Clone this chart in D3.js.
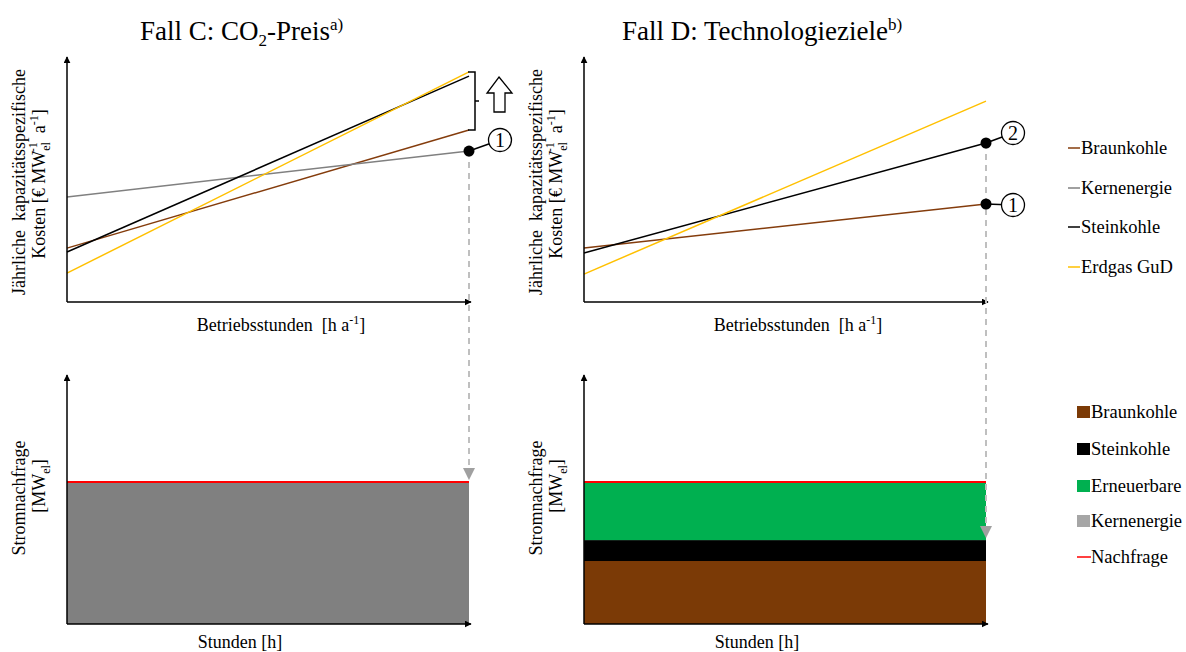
<!DOCTYPE html>
<html><head><meta charset="utf-8">
<script src="https://cdn.jsdelivr.net/npm/d3@7"></script>
<style>body{margin:0;background:#fff}</style>
</head><body><svg id="c" width="1186" height="652" font-family="'Liberation Serif', Tinos, 'Times New Roman', serif"></svg>
<script>
// ---- data ----
const hoursDomain = [0, 8760];
const costTechs = ["Braunkohle", "Kernenergie", "Steinkohle", "Erdgas GuD"];
const costColors = ["#843C0C", "#808080", "#000000", "#FFC000"];
const caseCStart = [22.0, 42.9, 20.4, 11.8];
const caseCEnd   = [70.2, 61.6, 92.2, 93.9];
const caseDStart = [22.0, null, 20.0, 11.4];
const caseDEnd   = [40.0, null, 64.9, 82.0];
const demand = 57;
const stackTechs = ["Braunkohle", "Steinkohle", "Erneuerbare", "Kernenergie"];
const stackColors = ["#7B3A06", "#000000", "#00B050", "#808080"];
const legendStackColors = ["#7B3A06", "#000000", "#00B050", "#A6A6A6"];
const caseCStack = [0, 0, 0, 57];
const caseDStack = [25.3, 8.4, 23.3, 0];

const svg = d3.select("#c");
const defs = svg.append("defs");
defs.append("marker").attr("id","ah").attr("viewBox","0 0 10 10").attr("refX",9).attr("refY",5)
  .attr("markerWidth",7).attr("markerHeight",7).attr("markerUnits","userSpaceOnUse").attr("orient","auto")
  .append("path").attr("d","M0,0L10,5L0,10z").attr("fill","#000");
defs.append("marker").attr("id","gh").attr("viewBox","0 0 10 10").attr("refX",10).attr("refY",5)
  .attr("markerWidth",12).attr("markerHeight",12).attr("markerUnits","userSpaceOnUse").attr("orient","auto")
  .append("path").attr("d","M0,0L10,5L0,10z").attr("fill","#A0A0A0");

const panels = [{x0:67, start:caseCStart, end:caseCEnd, stack:caseCStack},
                {x0:584, start:caseDStart, end:caseDEnd, stack:caseDStack}];
const W = 402;
const FS = 18;

function axes(g, x0, yb, yt){
  g.append("line").attr("x1",x0).attr("y1",yb).attr("x2",x0).attr("y2",yt)
   .attr("stroke","#000").attr("stroke-width",1.5).attr("marker-end","url(#ah)");
  g.append("line").attr("x1",x0).attr("y1",yb).attr("x2",x0+W+2).attr("y2",yb)
   .attr("stroke","#000").attr("stroke-width",1.5).attr("marker-end","url(#ah)");
}

panels.forEach((p,i)=>{
  const x = d3.scaleLinear().domain(hoursDomain).range([p.x0, p.x0+W]);
  const yT = d3.scaleLinear().domain([0,100]).range([302, 57]);
  const yB = d3.scaleLinear().domain([0,100]).range([624, 375]);
  const g = svg.append("g");
  let cum = 0;
  p.stack.forEach((v,k)=>{
    if(v>0){
      g.append("rect").attr("x",x(hoursDomain[0])).attr("width",x(hoursDomain[1])-x(hoursDomain[0]))
        .attr("y",yB(cum+v)).attr("height",yB(cum)-yB(cum+v)).attr("fill",stackColors[k]);
    }
    cum += v;
  });
  g.append("line").attr("x1",x(hoursDomain[0])).attr("x2",x(hoursDomain[1]))
    .attr("y1",yB(demand)).attr("y2",yB(demand)).attr("stroke","#FF0000").attr("stroke-width",2);
  costTechs.forEach((t,k)=>{
    if(p.start[k]==null) return;
    g.append("line").attr("x1",x(hoursDomain[0])).attr("y1",yT(p.start[k]))
      .attr("x2",x(hoursDomain[1])).attr("y2",yT(p.end[k]))
      .attr("stroke",costColors[k]).attr("stroke-width",1.5);
  });
  axes(g, p.x0, 302, 57);
  axes(g, p.x0, 624, 375);
  const cx = p.x0 + W/2;
  const bl = g.append("text").attr("x",cx+13).attr("y",331).attr("text-anchor","middle").attr("font-size",FS).attr("xml:space","preserve");
  bl.append("tspan").text("Betriebsstunden\u00a0\u00a0[h a");
  bl.append("tspan").attr("dy",-7).attr("font-size",12).text("-1");
  bl.append("tspan").attr("dy",7).text("]");
  g.append("text").attr("x",cx-28).attr("y",648).attr("text-anchor","middle").attr("font-size",FS).text("Stunden [h]");
  const lx = p.x0 - 42;
  const yl = g.append("g").attr("transform",`translate(${lx},182) rotate(-90)`);
  yl.append("text").attr("x",0).attr("y",0).attr("text-anchor","middle").attr("font-size",FS).text("Jährliche\u00a0\u00a0kapazitätsspezifische");
  const t2 = yl.append("text").attr("x",-2).attr("y",20).attr("text-anchor","middle").attr("font-size",FS);
  t2.append("tspan").text("Kosten [€ MW");
  t2.append("tspan").attr("dy",5).attr("font-size",12).text("el");
  t2.append("tspan").attr("dy",-13).attr("dx",-10).attr("font-size",12).text("-1");
  t2.append("tspan").attr("dy",8).text("\u00a0\u00a0a");
  t2.append("tspan").attr("dy",-7).attr("font-size",12).text("-1");
  t2.append("tspan").attr("dy",7).text("]");
  const yl2 = g.append("g").attr("transform",`translate(${lx},498) rotate(-90)`);
  yl2.append("text").attr("x",0).attr("y",0).attr("text-anchor","middle").attr("font-size",FS).text("Stromnachfrage");
  const t3 = yl2.append("text").attr("x",12).attr("y",20).attr("text-anchor","middle").attr("font-size",FS);
  t3.append("tspan").text("[MW");
  t3.append("tspan").attr("dy",5).attr("font-size",12).text("el");
  t3.append("tspan").attr("dy",-5).text("]");
});

const t1 = svg.append("text").attr("x",140).attr("y",40).attr("font-size",27);
t1.append("tspan").text("Fall C: CO");
t1.append("tspan").attr("dy",6).attr("font-size",17).text("2");
t1.append("tspan").attr("dy",-6).text("-Preis");
t1.append("tspan").attr("dy",-10).attr("font-size",17).text("a)");
const tD = svg.append("text").attr("x",622).attr("y",40).attr("font-size",27);
tD.append("tspan").text("Fall D: Technologieziele");
tD.append("tspan").attr("dy",-10).attr("font-size",17).text("b)");

const xC = d3.scaleLinear().domain(hoursDomain).range([67, 469]);
const yTC = d3.scaleLinear().domain([0,100]).range([302, 57]);
const yBC = d3.scaleLinear().domain([0,100]).range([624, 375]);
const an = svg.append("g");
function dashDown(xp, y1, y2){
  an.append("line").attr("x1",xp).attr("x2",xp).attr("y1",y1).attr("y2",y2)
    .attr("stroke","#BFBFBF").attr("stroke-width",2).attr("stroke-dasharray","6,5").attr("marker-end","url(#gh)");
}
function marker(xp, yp, cx, cy, label){
  an.append("line").attr("x1",xp).attr("y1",yp).attr("x2",cx).attr("y2",cy).attr("stroke","#000").attr("stroke-width",1.5);
  an.append("circle").attr("cx",xp).attr("cy",yp).attr("r",5.5).attr("fill","#000");
  an.append("circle").attr("cx",cx).attr("cy",cy).attr("r",11.5).attr("fill","#fff").attr("stroke","#000").attr("stroke-width",1.3);
  an.append("text").attr("x",cx).attr("y",cy+7).attr("text-anchor","middle").attr("font-size",20).text(label);
}
dashDown(xC(hoursDomain[1]), yTC(caseCEnd[1]), yBC(demand)-2);
marker(xC(hoursDomain[1]), yTC(caseCEnd[1]), 500, 140, "1");
const bx = 475, bt = yTC(caseCEnd[3]), bb = yTC(caseCEnd[0]);
an.append("path").attr("d",`M468,${bt}H${bx}V${bb}H468M${bx},${(bt+bb)/2}H479`).attr("fill","none").attr("stroke","#000").attr("stroke-width",1.5);
an.append("path").attr("d","M499,77L512,93H505V112H494V93H487Z").attr("fill","#fff").attr("stroke","#000").attr("stroke-width",1.3);

const xD = d3.scaleLinear().domain(hoursDomain).range([584, 986]);
dashDown(xD(hoursDomain[1]), yTC(caseDEnd[2]), yBC(caseDStack[0]+caseDStack[1])-2);
marker(xD(hoursDomain[1]), yTC(caseDEnd[2]), 1013, 133, "2");
marker(xD(hoursDomain[1]), yTC(caseDEnd[0]), 1013, 205, "1");

const LFS = 18.5;
const lg = svg.append("g");
const ly1 = [148, 188, 227, 267];
costTechs.forEach((t,k)=>{
  lg.append("line").attr("x1",1068).attr("x2",1080).attr("y1",ly1[k]).attr("y2",ly1[k]).attr("stroke",costColors[k]).attr("stroke-width",1.5);
  lg.append("text").attr("x",1081).attr("y",ly1[k]+6).attr("font-size",LFS).text(t);
});
const ly2 = [412, 449, 486, 521];
stackTechs.forEach((t,k)=>{
  lg.append("rect").attr("x",1077).attr("y",ly2[k]-6).attr("width",13).attr("height",12).attr("fill",legendStackColors[k]);
  lg.append("text").attr("x",1091).attr("y",ly2[k]+6).attr("font-size",LFS).text(t);
});
lg.append("line").attr("x1",1077).attr("x2",1091).attr("y1",557).attr("y2",557).attr("stroke","#FF0000").attr("stroke-width",1.5);
lg.append("text").attr("x",1091).attr("y",563).attr("font-size",LFS).text("Nachfrage");
</script></body></html>
